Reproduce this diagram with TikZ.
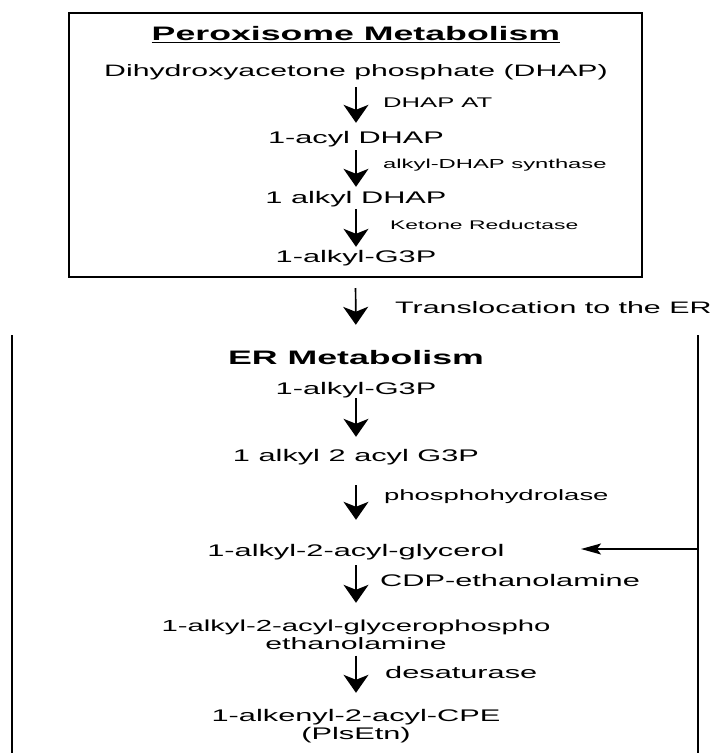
\documentclass[tikz,border=0pt]{standalone}
\usepackage{fontspec}
\setmainfont{Liberation Sans}[FakeStretch=1.83]
\usetikzlibrary{arrows.meta}
\begin{document}
\begin{tikzpicture}[x=1pt,y=-1pt,
  cmp/.style={inner sep=0pt, anchor=base, text height=12pt, text depth=3.5pt, font=\fontsize{16.8}{18}\selectfont},
  lbl/.style={inner sep=0pt, anchor=base west, font=\fontsize{14}{16}\selectfont},
  ttl/.style={inner sep=0pt, anchor=base, text height=14pt, text depth=0pt, font=\fontsize{19.5}{22}\selectfont\bfseries},
  flow/.style={-{Stealth[length=18pt,width=25pt,inset=5pt]}, line width=1.7pt},
  side/.style={-{Stealth[length=20pt,width=11pt,inset=4pt]}, line width=1.5pt},
  frame/.style={line width=2pt}]
\useasboundingbox (0,0) rectangle (710,753);
\fill[white] (0,0) rectangle (710,753);
% peroxisome box
\node[draw, frame, inner sep=0pt, minimum width=573pt, minimum height=264pt] (pbox) at (355.5,145) {};
\node[ttl] (pt) at (356,40) {Peroxisome Metabolism};
\draw[line width=1.5pt] ([yshift=-2.5pt]pt.base west) -- ([yshift=-2.5pt]pt.base east);
\node[cmp, font=\fontsize{16.5}{18}\selectfont] (d1) at (356,76) {Dihydroxyacetone phosphate (DHAP)};
\node[cmp] (d2) at (356,143) {1-acyl DHAP};
\node[cmp] (d3) at (356,203) {1 alkyl DHAP};
\node[cmp] (d4) at (356,262) {1-alkyl-G3P};
\draw[flow, shorten <=7.5pt, shorten >=8pt] (d1.south) -- (d2.north);
\draw[flow, shorten <=3.5pt, shorten >=4pt] (d2.south) -- (d3.north);
\draw[flow, shorten <=2.5pt, shorten >=3pt] (d3.south) -- (d4.north);
\node[lbl] (l1) at (383,107) {DHAP AT};
\node[lbl, font=\fontsize{13}{15}\selectfont] (l2) at (383,168) {alkyl-DHAP synthase};
\node[lbl, font=\fontsize{12.5}{15}\selectfont] (l3) at (390,229) {Ketone Reductase};
% translocation
\node[ttl] (et) at (356,364) {ER Metabolism};
\draw[flow, shorten <=10pt, shorten >=25pt] (pbox.south) -- (et.north);
\node[lbl, font=\fontsize{16.6}{18}\selectfont] (lt) at (395,313) {Translocation to the ER};
% ER region
\draw[frame] (12,335) -- (12,760);
\draw[frame] (698,335) -- (698,760);
\node[cmp] (e1) at (356,394) {1-alkyl-G3P};
\node[cmp] (e2) at (356,461) {1 alkyl 2 acyl G3P};
\node[cmp] (e3) at (356,556) {1-alkyl-2-acyl-glycerol};
\node[cmp, font=\fontsize{16}{16}\selectfont] (e4a) at (356,631) {1-alkyl-2-acyl-glycerophospho};
\node[cmp, font=\fontsize{16.5}{16}\selectfont] (e4b) at (356,649) {ethanolamine};
\node[cmp] (e5a) at (356,721) {1-alkenyl-2-acyl-CPE};
\node[cmp] (e5b) at (356,739) {(PlsEtn)};
\draw[flow, shorten <=0.5pt, shorten >=12pt] (e1.south) -- (e2.north);
\draw[flow, shorten <=20.5pt, shorten >=24pt] (e2.south) -- (e3.north);
\draw[flow, shorten <=5.5pt, shorten >=16pt] (e3.south) -- (e4a.north);
\draw[flow, shorten <=3pt, shorten >=16pt] (e4b.south) -- (e5a.north);
\node[lbl, font=\fontsize{15}{17}\selectfont] (l4) at (384,500) {phosphohydrolase};
\node[lbl, font=\fontsize{16.8}{18}\selectfont] (l5) at (380,586) {CDP-ethanolamine};
\node[lbl, font=\fontsize{16.8}{18}\selectfont] (l6) at (385,678) {desaturase};
\coordinate (sin) at (698,549);
\coordinate (sout) at (581,549);
\draw[side] (sin) -- (sout);
\end{tikzpicture}
\end{document}
